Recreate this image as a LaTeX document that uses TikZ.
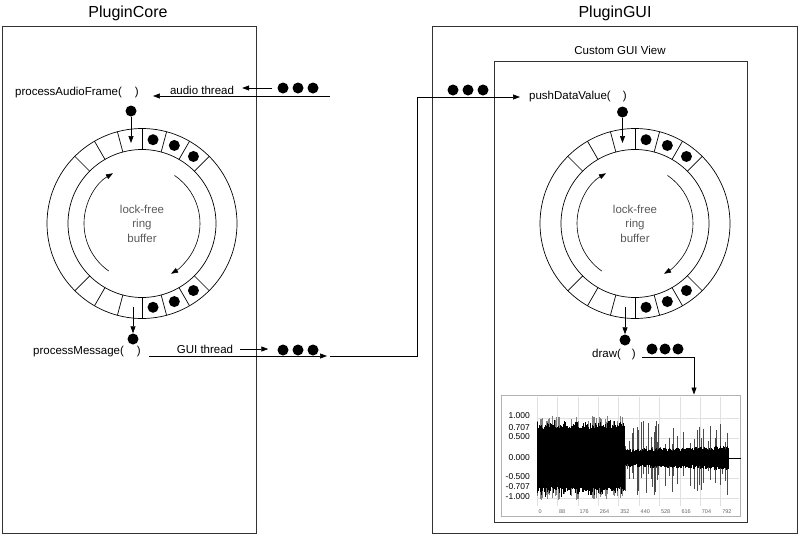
\documentclass[tikz,border=0pt]{standalone}
\usepackage{fontspec}
\setmainfont{Liberation Sans}
\usetikzlibrary{arrows.meta,calc}
\tikzset{
  boxframe/.style={draw=black!80, line width=0.8pt, inner sep=0pt},
  ttl/.style={inner sep=0pt, font=\fontsize{16}{18}\selectfont},
  lbl/.style={inner sep=0pt, font=\fontsize{11.5}{13}\selectfont},
  fn/.style={lbl, anchor=west},
  bead/.style={circle, fill=black, inner sep=0pt, minimum size=11pt},
  arr/.style={-{Triangle[length=7pt,width=5pt]}, line width=0.7pt},
  ringline/.style={line width=0.7pt},
  ringtxt/.style={align=center, text=black!65, font=\fontsize{11.5}{14.5}\selectfont, inner sep=0pt},
  gridln/.style={draw=black!12, line width=0.5pt},
  ylab/.style={anchor=east, inner sep=0pt, font=\fontsize{8.5}{9}\selectfont},
  xlab/.style={anchor=west, inner sep=0pt, text=black!60, font=\fontsize{5.5}{6}\selectfont},
  wave/.style={line width=0.6pt},
  spike/.style={draw=black!50, line width=0.35pt},
  qspike/.style={draw=black!70, line width=0.45pt},
}
\newcommand{\ringbuf}[2]{%
  \begin{scope}[shift={(#1)}, yscale=-1]
    \draw[ringline] (0,0) circle[radius=95];
    \draw[ringline] (0,0) circle[radius=74];
    \foreach \a in {45,60,75,90,105,120,135,225,240,255,270,285,300,315}
      \draw[ringline] (\a:74) -- (\a:95);
    \foreach \a in {52.5,67.5,82.5,277.5,292.5,307.5}
      \fill (\a:84.5) circle[radius=5.5];
    \draw[arr, line width=0.6pt] (235:58) arc[start angle=235,end angle=120,radius=58];
    \draw[arr, line width=0.6pt] (56:58) arc[start angle=56,end angle=-60,radius=58];
  \end{scope}
  \node[ringtxt] (#2txt) at (#1) {lock-free\\ring\\buffer};
}
\begin{document}
\begin{tikzpicture}[x=1pt,y=-1pt]
\useasboundingbox (0,0) rectangle (800,536);
% titles
\node[ttl] (tcore) at (128,13) {PluginCore};
\node[ttl] (tgui) at (615,13) {PluginGUI};
% boxes
\node[boxframe, minimum width=254pt, minimum height=507pt] (core) at (129,279.5) {};
\node[boxframe, minimum width=365pt, minimum height=507pt] (gui) at (614.5,279.5) {};
\node[boxframe, minimum width=253pt, minimum height=461pt] (view) at (620.5,291.5) {};
\node[lbl] (tview) at (620,50) {Custom GUI View};
% rings
\coordinate (lc) at (142,223.5);
\coordinate (rc) at (635,223.5);
\ringbuf{lc}{l}
\ringbuf{rc}{r}
% function labels
\node[fn] (paf) at (15,93) {processAudioFrame(\hspace{13pt})};
\node[fn] (pm) at (33,352) {processMessage(\hspace{13pt})};
\node[fn] (pdv) at (529,97) {pushDataValue(\hspace{12pt})};
\node[fn] (dr) at (592,355) {draw(\hspace{11pt})};
\node[lbl] (alab) at (202,90) {audio thread};
\node[lbl] (glab) at (205,349) {GUI thread};
% beads
\node[bead] (ab1) at (283,88) {};
\node[bead] (ab2) at (298,88) {};
\node[bead] (ab3) at (313,88) {};
\node[bead] (gb1) at (283,350) {};
\node[bead] (gb2) at (298,350) {};
\node[bead] (gb3) at (313,350) {};
\node[bead] (pb1) at (453,90) {};
\node[bead] (pb2) at (468,90) {};
\node[bead] (pb3) at (483,90) {};
\node[bead] (db1) at (652,349) {};
\node[bead] (db2) at (665,349) {};
\node[bead] (db3) at (678,349) {};
\node[bead] (lt) at (131,111) {};
\node[bead] (lb) at (133,339) {};
\node[bead] (rt) at (622.5,112) {};
\node[bead] (rb) at (625,340) {};
% coordinates
\coordinate (ain) at (330,96);
\coordinate (ltip) at (131,143);
\coordinate (lbot) at (133,307);
\coordinate (rtip) at (622.5,143);
\coordinate (rbot) at (625,307);
\coordinate (g1) at (327,356);
\coordinate (g2) at (330,356);
\coordinate (gcorner) at (417,97);
\coordinate (dcorner) at (694,357);
% chart frame
\node[draw=black!30, line width=1pt, minimum width=239pt, minimum height=121pt, inner sep=0pt] (chart) at (620.5,455.5) {};
% connectors
\draw[arr, shorten >=14pt] (ain) -- (ain -| paf.east);
\draw[arr, shorten <=5pt, shorten >=8pt] (ab1.west) -- (ab1.west -| alab.east);
\draw[arr] (lt) -- (ltip);
\draw[arr] (lbot) -- (lb);
\draw[arr, shorten <=8pt] (pm.east |- g1) -- (g1);
\draw[arr, shorten <=7pt, shorten >=9pt] (glab.east) -- (glab.east -| gb1.west);
\draw[arr, shorten >=9pt] (g2) -| (gcorner) -- (gcorner -| pdv.west);
\draw[arr] (rt) -- (rtip);
\draw[arr] (rbot) -- (rb);
\draw[arr, shorten <=6pt] (dr.east |- dcorner) -- (dcorner) -- (dcorner |- chart.north);
% chart grid
\foreach \i in {0,...,9}{
  \draw[gridln] ({537+20.4*\i},397) -- ({537+20.4*\i},506);
}
\foreach \yy in {418,438,458,478,498}{
  \draw[gridln] (537,\yy) -- (739,\yy);
}
% axis labels
\foreach \v/\yy [count=\k] in {1.000/416,0.707/428,0.500/437,0.000/458,-0.500/477,-0.707/487,-1.000/497}{
  \node[ylab] (yl\k) at (530,\yy) {\v};
}
\foreach \v [count=\k from 0] in {0,88,176,264,352,440,528,616,704,792}{
  \node[xlab] (xl\k) at ({538.5+20.4*\k},512) {\v};
}
% waveform: spikes first, solid body on top
\pgfmathsetseed{7}
\foreach \k in {1,...,40}{
  \pgfmathsetmacro\xx{537+87*rnd}
  \pgfmathsetmacro\ha{36+6*rnd}
  \pgfmathsetmacro\hb{36+6*rnd}
  \draw[spike] (\xx,{458-\ha}) -- (\xx,{458+\hb});
}
\foreach \k in {1,...,45}{
  \pgfmathsetmacro\xx{625+102*rnd}
  \pgfmathsetmacro\ha{8+30*rnd}
  \pgfmathsetmacro\hb{8+30*rnd}
  \draw[qspike] (\xx,{458-\ha}) -- (\xx,{458+\hb});
}
\foreach \i in {0,...,174}{
  \pgfmathsetmacro\xx{537+0.5*\i}
  \pgfmathsetmacro\ha{29+11*rnd*rnd}
  \pgfmathsetmacro\hb{29+11*rnd*rnd}
  \draw[wave] (\xx,{458-\ha}) -- (\xx,{458+\hb});
}
\foreach \i in {0,...,207}{
  \pgfmathsetmacro\xx{624.5+0.5*\i}
  \pgfmathsetmacro\ha{5+4*rnd+3*(\i/207)}
  \pgfmathsetmacro\hb{5+4*rnd+3*(\i/207)}
  \draw[wave] (\xx,{458-\ha}) -- (\xx,{458+\hb});
}
\draw[line width=1pt] (727,458) -- (chart.east |- 0,458);
\end{tikzpicture}
\end{document}
